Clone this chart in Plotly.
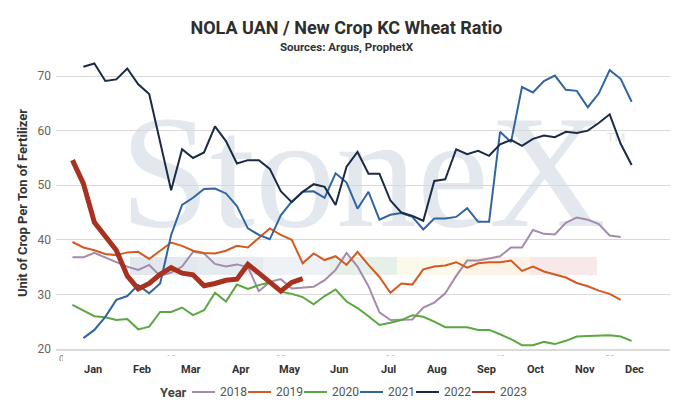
import plotly.graph_objects as go

# ---------------- data (weekly ratio, unit of crop per ton of fertilizer) -------------
weeks_2018 = list(range(1, 52))
ratio_2018 = [36.8, 36.8, 37.6, 36.8, 36.0, 35.1, 34.5, 35.4, 33.4, 34.0,
              35.1, 37.8, 37.5, 35.6, 35.1, 35.5, 35.0, 30.6, 32.3, 32.8,
              31.1, 31.3, 31.4, 32.6, 34.5, 37.6, 35.1, 31.5, 26.7, 25.3,
              25.4, 25.4, 27.6, 28.5, 30.2, 33.4, 36.2, 36.2, 36.6, 37.0,
              38.6, 38.6, 41.8, 41.1, 41.0, 43.1, 44.1, 43.7, 42.9, 40.8,
              40.5]

weeks_2019 = list(range(1, 52))
ratio_2019 = [39.6, 38.6, 38.1, 37.4, 37.2, 37.7, 37.8, 36.5, 38.0, 39.5,
              38.9, 38.0, 37.6, 37.5, 38.0, 38.9, 38.6, 40.4, 42.1, 40.9,
              40.0, 35.7, 37.5, 36.3, 37.0, 35.4, 37.8, 35.4, 33.2, 30.3,
              32.0, 31.8, 34.6, 35.1, 35.3, 35.9, 34.9, 35.7, 35.9, 35.9,
              36.2, 34.3, 35.1, 34.2, 33.6, 33.1, 32.1, 31.5, 30.7, 30.1,
              29.0]

weeks_2020 = list(range(1, 53))
ratio_2020 = [28.1, 27.1, 26.0, 25.8, 25.3, 25.5, 23.6, 24.1, 26.8, 26.8,
              27.6, 26.2, 27.1, 30.3, 28.7, 31.8, 31.0, 31.7, 32.2, 30.5,
              30.1, 29.5, 28.2, 29.7, 30.9, 28.7, 27.5, 26.0, 24.4, 24.8,
              25.3, 26.2, 25.9, 25.0, 24.0, 24.0, 24.0, 23.5, 23.5, 22.7,
              21.8, 20.7, 20.7, 21.3, 20.9, 21.5, 22.3, 22.4, 22.5, 22.5,
              22.3, 21.5]

weeks_2021 = list(range(2, 53))
ratio_2021 = [22.0, 23.5, 25.9, 29.0, 29.7, 31.7, 30.2, 32.0, 40.9, 46.4,
              47.7, 49.3, 49.4, 48.5, 46.2, 42.1, 40.9, 40.1, 44.5, 47.0,
              48.8, 48.9, 47.7, 52.2, 50.5, 45.7, 48.8, 43.7, 44.6, 44.9,
              44.2, 41.9, 43.9, 43.9, 44.2, 45.8, 43.3, 43.3, 59.8, 57.9,
              68.0, 67.0, 69.1, 70.1, 67.5, 67.3, 64.3, 66.8, 71.1, 69.5,
              65.3]

weeks_2022 = list(range(2, 53))
ratio_2022 = [71.7, 72.3, 69.1, 69.4, 71.4, 68.5, 66.7, 58.0, 49.1, 56.6,
              55.0, 56.0, 60.8, 58.1, 54.0, 54.6, 54.6, 53.0, 48.9, 46.9,
              48.8, 50.2, 49.7, 46.4, 53.4, 56.1, 52.1, 52.1, 47.2, 45.0,
              44.4, 43.5, 50.8, 51.1, 56.6, 55.7, 56.3, 55.4, 57.5, 58.3,
              57.2, 58.5, 59.1, 58.8, 59.8, 59.6, 60.0, 61.4, 63.0, 57.6,
              53.7]

weeks_2023 = list(range(1, 23))
ratio_2023 = [54.6, 50.3, 43.2, 40.6, 38.1, 33.4, 31.0, 32.0, 33.7, 34.9,
              33.9, 33.6, 31.6, 32.0, 32.6, 32.8, 35.5, 33.9, 32.1, 30.6,
              32.2, 32.9]

years = ["2018", "2019", "2020", "2021", "2022", "2023"]
colors = ["#a48bab", "#d35a20", "#5aa83f", "#3165a0", "#1c2b45", "#a8311f"]
widths = [2, 2, 2, 2, 2, 5]
series_x = [weeks_2018, weeks_2019, weeks_2020, weeks_2021, weeks_2022, weeks_2023]
series_y = [ratio_2018, ratio_2019, ratio_2020, ratio_2021, ratio_2022, ratio_2023]

week_ticks = [0, 10, 20, 30, 40, 50]
month_labels = ["Jan", "Feb", "Mar", "Apr", "May", "Jun",
                "Jul", "Aug", "Sep", "Oct", "Nov", "Dec"]
y_ticks = [20, 30, 40, 50, 60, 70]

# ---------------- layout helpers -------------
W, H = 693, 413
ML, MR, MT, MB = 56, 23, 57, 64
PW, PH = W - ML - MR, H - MT - MB
FONT = "Roboto"


def px(xp):
    return (xp - ML) / PW


def py(yp):
    return (H - MB - yp) / PH


fig = go.Figure()
for name, xs, ys, c, w in zip(years, series_x, series_y, colors, widths):
    fig.add_trace(go.Scatter(x=xs, y=ys, mode="lines", name=name,
                             line=dict(color=c, width=w), showlegend=False))

shapes = []
annotations = []

# watermark (logo text + colour band) behind the data
shapes.append(dict(type="rect", xref="paper", yref="paper",
                   x0=px(110), x1=px(616), y0=py(219), y1=py(87),
                   line=dict(width=0), fillcolor="rgba(0,0,0,0)", layer="below",
                   label=dict(text="StoneX", textposition="middle center",
                              font=dict(family="Liberation Serif", size=162,
                                        color="#e3e8ef"))))
shapes.append(dict(type="rect", xref="paper", yref="paper",
                   x0=px(600), x1=px(632), y0=py(146), y1=py(126),
                   line=dict(width=0), fillcolor="rgba(0,0,0,0)", layer="below",
                   label=dict(text="TM", textposition="middle center",
                              font=dict(family="Liberation Sans", size=13,
                                        color="#e1e6ec"))))
band_cols = ["#e3e8ef", "#e6ebf2", "#eef2f7", "#e7efe9", "#fbf9ea", "#fdf2e6", "#f9e8ea"]
band_edges = [130, 197, 263, 330, 397, 463, 530, 597]
for i, bc in enumerate(band_cols):
    shapes.append(dict(type="rect", xref="paper", yref="paper",
                       x0=px(band_edges[i]), x1=px(band_edges[i + 1]),
                       y0=py(275), y1=py(257), line=dict(width=0),
                       fillcolor=bc, layer="below"))

# white masks that leave only the tops of the numeric week labels visible
shapes.append(dict(type="rect", xref="paper", yref="paper",
                   x0=px(63), x1=px(W + 5), y0=py(H + 5), y1=py(355.5),
                   line=dict(width=0), fillcolor="white", layer="above"))
shapes.append(dict(type="rect", xref="paper", yref="paper",
                   x0=px(-5), x1=px(W + 5), y0=py(H + 5), y1=py(361),
                   line=dict(width=0), fillcolor="white", layer="above"))

# month labels
for i, m in enumerate(month_labels):
    annotations.append(dict(text="<b>%s</b>" % m, xref="paper", yref="paper",
                            x=px(93 + 49.2 * i), y=py(369), showarrow=False,
                            xanchor="center", yanchor="middle",
                            font=dict(family=FONT, size=11, color="#333333")))

# legend (manual, compact)
leg_y = py(392)
annotations.append(dict(text="<b>Year</b>", xref="paper", yref="paper",
                        x=px(189), y=leg_y, showarrow=False, xanchor="right",
                        yanchor="middle",
                        font=dict(family=FONT, size=13, color="#444444")))
for i, (name, c) in enumerate(zip(years, colors)):
    x0 = 192 + 56 * i
    shapes.append(dict(type="line", xref="paper", yref="paper",
                       x0=px(x0), x1=px(x0 + 23), y0=leg_y, y1=leg_y,
                       line=dict(color=c, width=2), layer="above"))
    annotations.append(dict(text=name, xref="paper", yref="paper",
                            x=px(x0 + 26), y=leg_y, showarrow=False,
                            xanchor="left", yanchor="middle",
                            font=dict(family=FONT, size=12, color="#555555")))

# subtitle
annotations.append(dict(text="<b>Sources: Argus, ProphetX</b>", xref="paper",
                        yref="paper", x=px(W / 2), y=py(47), showarrow=False,
                        xanchor="center", yanchor="middle",
                        font=dict(family=FONT, size=11.5, color="#333333")))

fig.update_layout(
    width=W, height=H,
    margin=dict(l=ML, r=MR, t=MT, b=MB),
    paper_bgcolor="white", plot_bgcolor="white",
    font=dict(family=FONT, color="#333333"),
    title=dict(text="<b>NOLA UAN / New Crop KC Wheat Ratio</b>",
               x=0.5, xref="container", xanchor="center",
               y=1 - 28 / H, yref="container", yanchor="middle",
               font=dict(family=FONT, size=18, color="#2e2e2e")),
    showlegend=False,
    shapes=shapes,
    annotations=annotations,
    xaxis=dict(range=[-0.5, 55.5], tickvals=week_ticks, showgrid=False,
               zeroline=False, showline=True, linecolor="#dadada", linewidth=2,
               ticks="", tickfont=dict(family=FONT, size=9, color="#777777")),
    yaxis=dict(range=[20, 73.5], tickvals=y_ticks, showgrid=True,
               gridcolor="#d9d9d9", gridwidth=1, zeroline=False, ticks="",
               automargin=False, ticklabelstandoff=4,
               tickfont=dict(family=FONT, size=12, color="#6e6256"),
               title=dict(text="<b>Unit of Crop Per Ton of Fertilizer</b>",
                          font=dict(family=FONT, size=13, color="#333333"),
                          standoff=6)),
)

fig.write_html("out.html", config={"displayModeBar": False},
               post_script="document.body.style.margin='0';document.body.style.padding='0';")
